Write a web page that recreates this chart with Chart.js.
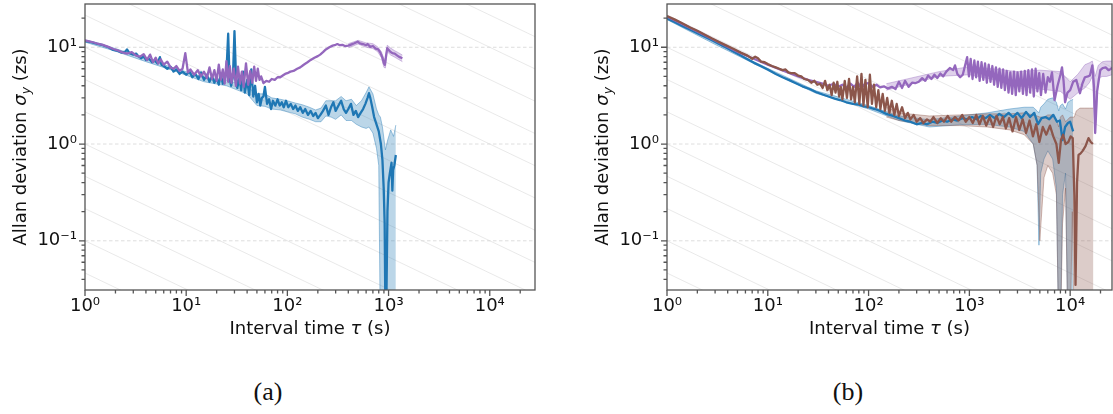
<!DOCTYPE html>
<html>
<head>
<meta charset="utf-8">
<script src="https://cdn.jsdelivr.net/npm/chart.js@4.4.0/dist/chart.umd.min.js"></script>
<style>
  body { margin: 0; background: #fff; }
  #wrap { position: relative; width: 1113px; height: 414px; overflow: hidden; background: #fff; }
  canvas { position: absolute; top: 0; }
  .cap { position: absolute; top: 377px; line-height: 30px; font: 26px 'Liberation Serif', serif; color: #111; transform: translateX(-50%); }
</style>
</head>
<body>
<div id="wrap">
  <canvas id="chartA" width="560" height="350" style="left:0"></canvas>
  <canvas id="chartB" width="553" height="350" style="left:560px"></canvas>
  <div class="cap" style="left:268px">(a)</div>
  <div class="cap" style="left:848px">(b)</div>
</div>
<script>
// axis ticks
const xTickVals = [1, 10, 100, 1000, 10000];
const xTickLabels = ['10⁰', '10¹', '10²', '10³', '10⁴'];
const yTickVals = [0.1, 1, 10];
const yTickLabels = ['10⁻¹', '10⁰', '10¹'];
// tau^-1/2 guide lines (value at tau = 1)
const guideLevels = [0.01, 0.0215, 0.0464, 0.1, 0.215, 0.464, 1, 2.15, 4.64, 10, 21.5, 46.4, 100, 215, 464, 1000, 2154, 4642, 10000];

// ---- panel (a) ----
const aBlueTau = [1, 1.15, 1.3, 1.5, 1.7, 1.9, 2.1, 2.3, 2.5, 2.6,
  2.75, 3.0, 3.2, 3.4, 3.6, 3.8, 4.0, 4.3, 4.6, 4.9,
  5.2, 5.5, 5.7, 6.0, 6.5, 7.0, 7.5, 8.0, 8.6, 9.2,
  10, 10.8, 11.5, 12.3, 13.2, 14, 15, 16, 17, 18,
  19, 20, 21, 22, 23, 24, 25, 26, 26.8, 27.8,
  29, 30, 31, 32, 33.5, 35, 36.5, 38, 40, 42,
  44, 46, 48, 50, 52, 54, 56, 58, 60, 63,
  66, 69, 72, 76, 80, 84, 88, 92, 97, 102,
  108, 114, 120, 127, 134, 142, 150, 160, 170, 180,
  190, 200, 212, 225, 240, 255, 270, 285, 300, 320,
  340, 360, 380, 400, 425, 450, 475, 500, 530, 560,
  590, 620, 640, 660, 690, 720, 760, 800, 840, 870,
  895, 915, 930, 950, 975, 1000, 1030, 1070, 1090, 1110,
  1140, 1180];
const aBlueVal = [11.6, 11.3, 10.9, 10.5, 10.0, 9.4, 9.2, 8.8, 9.0, 9.5,
  8.7, 8.4, 8.6, 8.0, 7.7, 8.1, 7.4, 7.6, 7.0, 7.3,
  6.8, 7.9, 6.6, 6.4, 6.0, 6.3, 5.6, 5.9, 5.3, 5.6,
  5.2, 5.6, 4.9, 5.3, 4.7, 5.5, 4.6, 5.2, 4.4, 5.0,
  4.3, 4.8, 4.1, 5.3, 4.2, 4.6, 5.6, 13.8, 4.8, 4.0,
  5.0, 14.7, 5.2, 3.8, 4.8, 3.6, 5.6, 3.4, 4.6, 3.2,
  5.9, 3.1, 4.0, 2.7, 3.3, 2.5, 3.0, 3.1, 3.9, 2.6,
  2.9, 2.3, 2.8, 2.5, 2.9, 2.5, 2.7, 2.4, 2.8, 2.4,
  2.6, 2.3, 2.5, 2.2, 2.4, 2.1, 2.3, 2.0, 2.2, 1.95,
  2.1, 1.85, 2.0, 2.2, 2.5, 2.0, 2.4, 2.7, 2.2, 2.5,
  2.8, 2.3, 2.1, 2.3, 2.6, 2.0, 2.2, 1.9, 2.1, 2.3,
  2.6, 3.0, 3.35, 3.0, 2.4, 1.9, 1.6, 1.35, 1.0, 0.68,
  0.35, 0.15, 0.02, 0.02, 0.2, 0.4, 0.5, 0.64, 0.33, 0.54,
  0.6, 0.77];
const aBlueBandTau = [1, 2, 4, 8, 15, 25, 40, 50, 60, 70, 85, 100, 120, 140, 165, 190, 215, 240, 270, 300,
  340, 380, 430, 480, 540, 600, 640, 700, 760, 800, 830, 870, 930, 980, 1050, 1120, 1180];
const aBlueHi = [11.9, 9.7, 7.6, 6.0, 4.9, 4.6, 3.9, 3.3, 3.3, 3.0, 2.9, 2.8, 2.65, 2.55, 2.4, 2.25, 2.35, 2.8, 2.8, 2.8,
  3.1, 2.8, 2.9, 2.5, 2.8, 3.4, 3.9, 3.3, 2.3, 2.0, 1.9, 1.5, 0.87, 1.1, 1.4, 1.2, 1.57];
const aBlueLo = [11.3, 9.1, 7.1, 5.6, 4.4, 4.0, 3.3, 2.5, 2.45, 2.3, 2.25, 2.15, 2.05, 1.9, 1.8, 1.7, 1.7, 1.95, 1.9, 1.8,
  2.0, 1.75, 1.75, 1.6, 1.5, 1.45, 1.5, 1.3, 0.9, 0.6, 0.01, 0.01, 0.01, 0.01, 0.01, 0.01, 0.01];

const aPurpleTau = [1, 1.15, 1.3, 1.5, 1.7, 1.9, 2.1, 2.3, 2.6, 2.9,
  3.2, 3.5, 3.8, 4.1, 4.4, 4.7, 5.0, 5.3, 5.6, 6.0,
  6.5, 7.0, 7.5, 8.0, 8.6, 9.2, 9.8, 10.4, 11, 12,
  13, 14, 15, 16, 17, 18, 19, 20, 21, 22,
  23, 24, 25, 26, 27, 28, 29.5, 31, 32.5, 34,
  35.5, 37, 39, 41, 43, 45, 47, 49, 51, 53,
  55, 58, 62, 66, 70, 75, 80, 85, 90, 95,
  100, 107, 115, 125, 134, 145, 158, 170, 185, 200,
  211, 225, 240, 260, 280, 300, 312, 330, 350, 370,
  400, 430, 460, 495, 520, 560, 600, 620, 660, 700,
  745, 790, 830, 870, 900, 920, 945, 970, 1000, 1040,
  1090, 1150, 1220, 1290, 1370];
const aPurpleVal = [11.8, 11.4, 11.0, 10.6, 10.1, 9.6, 9.3, 8.9, 8.6, 8.9,
  8.2, 8.0, 8.5, 7.4, 8.4, 7.0, 7.8, 6.8, 7.5, 6.6,
  7.1, 6.2, 6.0, 6.4, 5.7, 6.0, 8.7, 5.5, 5.9, 5.2,
  5.8, 5.0, 5.6, 4.8, 6.2, 4.7, 5.8, 4.5, 6.6, 4.6,
  5.9, 4.2, 7.2, 4.4, 6.4, 4.3, 6.0, 4.0, 6.3, 4.2,
  5.6, 3.9, 6.8, 4.1, 5.7, 4.3, 6.3, 4.5, 6.0, 4.6,
  5.0, 4.25, 4.5, 4.4, 4.7, 4.6, 4.9, 4.9, 5.1, 5.3,
  5.4, 5.6, 5.7, 6.0, 6.2, 6.6, 7.0, 7.4, 7.8, 8.1,
  8.4, 8.9, 9.5, 10.0, 10.4, 10.6, 10.8, 10.5, 10.6, 10.3,
  10.4, 10.7, 11.0, 11.4, 11.0, 10.8, 10.5, 10.8, 10.1, 10.3,
  9.7, 9.5, 8.8, 7.8, 6.8, 6.6, 8.2, 9.8, 9.4, 9.0,
  8.7, 8.6, 8.2, 7.9, 7.7];
const aPurpleBandTau = [400, 500, 600, 700, 780, 850, 900, 930, 970, 1050, 1150, 1250, 1370];
const aPurpleHi = [10.9, 11.8, 11.1, 10.9, 10.1, 9.0, 7.6, 7.5, 10.5, 9.8, 9.2, 8.8, 8.3];
const aPurpleLo = [9.9, 10.8, 10.0, 9.7, 9.0, 7.8, 6.2, 6.1, 9.0, 8.3, 7.9, 7.5, 7.1];

// ---- panel (b) ----
const bBlueTau = [1, 1.2, 1.4, 1.7, 2.0, 2.4, 2.8, 3.3, 3.9, 4.6,
  5.4, 6.3, 7.3, 8.5, 10, 12, 14, 16.5, 19, 22,
  26, 30, 35, 40, 46, 52, 60, 70, 80, 90,
  100, 115, 130, 150, 175, 200, 230, 260, 300, 340,
  380, 430, 480, 540, 600, 680, 760, 850, 950, 1060,
  1180, 1300, 1450, 1600, 1780, 1980, 2200, 2450, 2700, 3000,
  3300, 3650, 4000, 4400, 4800, 5200, 5700, 6200, 6800, 7400,
  7900, 8400, 8900, 9500, 10000, 10700];
const bBlueVal = [19.8, 18.1, 16.7, 15.2, 14.0, 12.8, 11.8, 10.8, 9.9, 9.0,
  8.2, 7.5, 6.9, 6.4, 5.9, 5.3, 4.9, 4.55, 4.25, 3.95,
  3.7, 3.45, 3.25, 3.1, 2.95, 2.85, 2.7, 2.6, 2.55, 2.45,
  2.4, 2.3, 2.2, 2.05, 1.95, 1.85, 1.75, 1.7, 1.6, 1.65,
  1.6, 1.7, 1.65, 1.75, 1.7, 1.8, 1.75, 1.85, 1.8, 1.9,
  1.8, 1.95, 1.85, 2.0, 1.85, 2.05, 1.9, 2.1, 1.9, 2.1,
  1.85, 2.15, 1.9, 2.1, 1.6, 1.85, 1.9, 1.8, 2.0, 1.7,
  1.75, 1.1, 1.5, 1.65, 1.7, 1.35];
const bBlueBandTau = [1, 3, 10, 30, 100, 200, 400, 800, 1500, 2500, 3500, 4300, 4700, 4900, 5100, 5500, 6000,
  6700, 7300, 7700, 8000, 8400, 9000, 9500, 10000, 10700];
const bBlueHi = [20.3, 11.1, 6.05, 3.55, 2.5, 1.95, 1.78, 1.95, 2.1, 2.3, 2.4, 2.4, 2.2, 2.1, 2.4, 2.6, 2.9,
  3.0, 2.7, 2.2, 2.5, 2.6, 2.3, 2.7, 2.8, 2.9];
const bBlueLo = [19.3, 10.7, 5.75, 3.35, 2.3, 1.75, 1.5, 1.58, 1.6, 1.5, 1.35, 1.0, 0.6, 0.09, 0.5, 0.7, 0.85,
  0.7, 0.35, 0.01, 0.01, 0.3, 0.5, 0.01, 0.01, 0.01];

const bBrownTau = [1, 1.2, 1.4, 1.7, 2.0, 2.4, 2.8, 3.3, 3.9, 4.6,
  5.4, 6.3, 7.0, 7.5, 8.0, 8.6, 9.3, 10, 11, 12,
  13, 14, 15, 16, 17, 18.5, 20, 21.5, 23, 25,
  27, 29, 31, 33, 35, 37, 39, 41, 43, 45,
  47, 49, 51, 53, 55, 58, 61, 64, 67, 70,
  73, 77, 81, 85, 89, 93, 98, 103, 108, 113,
  119, 125, 131, 138, 145, 153, 161, 170, 180, 190,
  200, 215, 230, 245, 260, 280, 300, 325, 350, 380,
  410, 440, 480, 520, 560, 610, 660, 720, 780, 850,
  920, 1000, 1080, 1170, 1260, 1360, 1470, 1590, 1720, 1860,
  2000, 2150, 2300, 2480, 2680, 2900, 3130, 3380, 3650, 3950,
  4270, 4600, 4950, 5350, 5800, 6300, 6800, 7300, 7700, 8100,
  8500, 9000, 9600, 10100, 10600, 11000, 11300, 11700, 12100, 12700,
  13300, 14200, 15200, 16000, 16800];
const bBrownVal = [21.0, 19.3, 17.8, 16.0, 14.8, 13.4, 12.3, 11.3, 10.4, 9.6,
  8.8, 8.2, 7.6, 8.0, 7.7, 7.1, 7.0, 6.7, 6.4, 6.2,
  6.0, 5.8, 5.9, 5.5, 5.4, 5.4, 5.1, 5.0, 4.7, 4.6,
  4.3, 4.5, 4.1, 4.2, 3.8, 4.5, 3.6, 4.1, 3.2, 4.3,
  3.4, 4.4, 3.1, 3.9, 2.9, 4.5, 3.0, 4.7, 2.9, 3.9,
  2.7, 5.0, 2.6, 5.3, 2.5, 4.6, 2.4, 5.2, 2.6, 4.1,
  2.4, 3.6, 2.3, 3.3, 2.2, 3.0, 2.1, 2.8, 2.0, 2.6,
  1.95, 2.4, 1.85, 2.1, 1.8, 2.0, 1.7, 1.85, 1.65, 1.8,
  1.7, 1.9, 1.65, 1.85, 1.7, 1.95, 1.7, 1.9, 1.75, 2.0,
  1.7, 1.9, 1.65, 2.0, 1.6, 1.95, 1.55, 1.9, 1.5, 1.95,
  1.6, 1.9, 1.45, 1.85, 1.35, 1.9, 1.4, 1.8, 1.3, 1.75,
  1.2, 1.6, 1.05, 1.5, 1.25, 1.55, 1.2, 1.0, 0.64, 1.1,
  1.25, 1.0, 1.05, 1.2, 1.15, 0.3, 0.035, 0.4, 0.77, 0.8,
  0.85, 0.95, 1.15, 1.05, 1.0];
const bBrownBandTau = [150, 200, 400, 800, 1500, 2500, 3500, 4300, 4700, 5000, 5500, 6000, 6700, 7300, 7700,
  8000, 8400, 9000, 9500, 10000, 10500, 11000, 11500, 12500, 14000, 15500, 17000];
const bBrownHi = [2.4, 2.1, 1.95, 2.0, 2.05, 2.05, 2.1, 2.0, 1.95, 1.9, 1.9, 2.0, 2.0, 1.8, 1.5,
  1.9, 2.0, 1.7, 1.8, 1.9, 1.9, 1.9, 2.2, 2.35, 2.35, 2.35, 2.35];
const bBrownLo = [1.9, 1.75, 1.55, 1.55, 1.5, 1.4, 1.25, 1.0, 0.6, 0.1, 0.45, 0.6, 0.5, 0.3, 0.01,
  0.01, 0.15, 0.35, 0.01, 0.01, 0.2, 0.01, 0.01, 0.01, 0.01, 0.01, 0.01];

const bPurpleTau = [1, 2, 5, 10, 20, 25, 30, 35, 40, 45,
  50, 55, 60, 66, 72, 78, 85, 92, 100, 110,
  120, 130, 142, 155, 170, 185, 200, 215, 230, 250,
  270, 290, 315, 340, 365, 390, 420, 450, 480, 515,
  550, 590, 640, 690, 720, 760, 810, 860, 910,
  950, 990, 1030, 1075, 1120, 1165, 1215, 1265, 1320, 1375,
  1430, 1490, 1555, 1620, 1690, 1760, 1835, 1910, 1990, 2075,
  2160, 2250, 2345, 2445, 2550, 2655, 2770, 2885, 3005, 3130,
  3260, 3400, 3545, 3690, 3845, 4010, 4180, 4355, 4540, 4730,
  4930, 5130,
  5400, 5700, 6000, 6300, 6600, 7000, 7500, 8000, 8300, 8600,
  8900, 9400, 10000, 10700, 11500, 12500, 13200, 14000, 15000, 15700,
  16600, 17200, 17700, 18500, 19900, 21000, 22500, 24000, 25500, 26000];
const bPurpleVal = [20.8, 14.6, 9.0, 6.6, 5.0, 4.6, 4.4, 4.2, 4.0, 4.2,
  3.9, 4.1, 3.8, 4.2, 3.9, 4.3, 3.8, 4.2, 4.25, 3.9,
  4.1, 3.85, 3.95, 3.75, 3.9, 3.7, 4.4, 3.8, 4.5, 3.9,
  4.3, 4.25, 4.4, 4.8, 4.5, 5.1, 4.7, 5.2, 4.8, 5.35,
  5.0, 5.6, 6.1, 5.8, 6.5, 5.3, 4.9, 5.2, 6.6,
  7.9, 5.0, 7.6, 4.7, 7.3, 4.9, 7.1, 4.5, 7.0, 4.6,
  6.8, 4.3, 6.6, 4.4, 6.4, 4.1, 6.2, 3.9, 6.0, 3.8,
  5.9, 3.6, 5.7, 3.4, 5.5, 3.3, 5.6, 3.2, 5.5, 3.5,
  5.6, 3.3, 5.7, 3.2, 5.8, 3.4, 5.9, 3.1, 6.0, 3.5,
  5.4, 3.2,
  5.3, 3.4, 4.9, 4.4, 5.5, 2.84, 4.0, 5.2, 6.2, 4.5,
  2.7, 3.4, 3.6, 4.4, 4.6, 3.35, 4.2, 4.9, 5.0, 5.1,
  6.5, 4.0, 1.3, 3.5, 5.8, 6.1, 6.2, 5.8, 6.0, 6.2];
const bPurpleBandTau = [150, 500, 1000, 2000, 3000, 5000, 8000, 10000, 12000, 14000, 15500, 16600, 17700,
  19000, 21000, 23000, 26000];
const bPurpleHi = [4.2, 5.6, 6.3, 5.9, 5.6, 5.8, 5.6, 4.4, 5.3, 6.6, 6.9, 7.2, 5.0, 6.5, 7.1, 7.2, 7.2];
const bPurpleLo = [3.6, 5.0, 5.2, 4.5, 4.0, 3.7, 3.5, 2.9, 3.4, 3.8, 4.3, 5.0, 1.3, 4.8, 5.0, 5.0, 5.2];

const BLUE = '#1f77b4', PURPLE = '#9467bd', BROWN = '#8c564b';
const AXIS = '#555';
const FONT = '"DejaVu Sans"';

const pts = (xs, ys) => xs.map((x, i) => ({ x, y: ys[i] }));
function rgba(hex, a) {
  const n = parseInt(hex.slice(1), 16);
  return `rgba(${n >> 16},${(n >> 8) & 255},${n & 255},${a})`;
}
function line(xs, ys, color, order) {
  return { data: pts(xs, ys), borderColor: color, borderWidth: 2.3, pointRadius: 0,
    fill: false, order, borderJoinStyle: 'round' };
}
function band(xs, lo, hi, color, order) {
  return [
    { data: pts(xs, hi), borderColor: rgba(color, 0.45), borderWidth: 0.9, pointRadius: 0,
      backgroundColor: rgba(color, 0.3), fill: '+1', order },
    { data: pts(xs, lo), borderColor: rgba(color, 0.45), borderWidth: 0.9, pointRadius: 0,
      fill: false, order }
  ];
}

function drawRich(ctx, segs, cx, cy) {
  let w = 0;
  segs.forEach(s => { ctx.font = s[1]; w += ctx.measureText(s[0]).width; });
  let x = cx - w / 2;
  segs.forEach(s => {
    ctx.font = s[1];
    ctx.fillText(s[0], x, cy + (s[2] || 0));
    x += ctx.measureText(s[0]).width;
  });
}

const frame = {
  id: 'frame',
  beforeDatasetsDraw(chart) {
    const { ctx, chartArea: a, scales: { x, y } } = chart;
    ctx.save();
    ctx.beginPath();
    ctx.rect(a.left, a.top, a.right - a.left, a.bottom - a.top);
    ctx.clip();
    ctx.strokeStyle = '#e7e7e7';
    ctx.lineWidth = 0.9;
    guideLevels.forEach(c => {
      ctx.beginPath();
      ctx.moveTo(x.getPixelForValue(x.min), y.getPixelForValue(c / Math.sqrt(x.min)));
      ctx.lineTo(x.getPixelForValue(x.max), y.getPixelForValue(c / Math.sqrt(x.max)));
      ctx.stroke();
    });
    ctx.setLineDash([3.5, 2.5]);
    ctx.strokeStyle = '#d9d9d9';
    yTickVals.forEach(v => {
      const py = y.getPixelForValue(v);
      ctx.beginPath();
      ctx.moveTo(a.left, py);
      ctx.lineTo(a.right, py);
      ctx.stroke();
    });
    ctx.restore();
  },
  afterDraw(chart) {
    const { ctx, chartArea: a, scales: { x, y } } = chart;
    ctx.save();
    ctx.strokeStyle = AXIS;
    ctx.lineWidth = 1.3;
    ctx.beginPath();
    for (let d = 0; d <= 4; d++) {
      for (let m = 1; m <= 9; m++) {
        const v = m * Math.pow(10, d);
        if (v < x.min || v > x.max) continue;
        const px = x.getPixelForValue(v), len = m === 1 ? 6 : 3.5;
        ctx.moveTo(px, a.bottom);
        ctx.lineTo(px, a.bottom + len);
      }
    }
    for (let d = -2; d <= 1; d++) {
      for (let m = 1; m <= 9; m++) {
        const v = m * Math.pow(10, d);
        if (v < y.min || v > y.max) continue;
        const py = y.getPixelForValue(v), len = m === 1 ? 6 : 3.5;
        ctx.moveTo(a.left, py);
        ctx.lineTo(a.left - len, py);
      }
    }
    ctx.stroke();
    ctx.strokeRect(a.left, a.top, a.right - a.left, a.bottom - a.top);

    // axis titles
    ctx.fillStyle = '#111';
    ctx.textBaseline = 'alphabetic';
    const norm = `18px ${FONT}`, ital = `italic 18px ${FONT}`, sub = `italic 12.5px ${FONT}`;
    drawRich(ctx, [['Interval time ', norm], ['τ', ital], [' (s)', norm]], (a.left + a.right) / 2, a.bottom + 44);
    ctx.translate(a.left - 59, (a.top + a.bottom) / 2);
    ctx.rotate(-Math.PI / 2);
    drawRich(ctx, [['Allan deviation ', norm], ['σ', ital], ['y', sub, 3.5], [' (zs)', norm]], 0, 0);
    ctx.restore();
  }
};

function makeChart(id, datasets, xMax, yWidth, padRight) {
  const tickFont = { family: 'DejaVu Sans', size: 18 };
  return new Chart(document.getElementById(id), {
    type: 'line',
    data: { datasets },
    options: {
      responsive: false,
      animation: false,
      devicePixelRatio: 1,
      events: [],
      layout: { padding: { left: 0, top: 4, right: padRight, bottom: 0 } },
      plugins: { legend: { display: false }, tooltip: { enabled: false } },
      scales: {
        x: {
          type: 'logarithmic', min: 1, max: xMax,
          grid: { display: false, drawTicks: false }, border: { display: false },
          ticks: { font: tickFont, color: '#111', padding: 6, autoSkip: false, maxRotation: 0,
            callback: (v, i) => xTickLabels[i] },
          afterBuildTicks: s => { s.ticks = xTickVals.map(value => ({ value })); },
          afterFit: s => { s.height = 60; s.paddingLeft = 0; s.paddingRight = 0; }
        },
        y: {
          type: 'logarithmic', min: 0.031, max: 28,
          grid: { display: false, drawTicks: false }, border: { display: false },
          ticks: { font: tickFont, color: '#111', padding: 8, autoSkip: false,
            callback: (v, i) => yTickLabels[i] },
          afterBuildTicks: s => { s.ticks = yTickVals.map(value => ({ value })); },
          afterFit: s => { s.width = yWidth; s.paddingTop = 0; s.paddingBottom = 0; }
        }
      }
    },
    plugins: [frame]
  });
}

makeChart('chartA', [
  line(aPurpleTau, aPurpleVal, PURPLE, 0),
  line(aBlueTau, aBlueVal, BLUE, 1),
  ...band(aPurpleBandTau, aPurpleLo, aPurpleHi, PURPLE, 10),
  ...band(aBlueBandTau, aBlueLo, aBlueHi, BLUE, 11)
], 28000, 85, 25);

makeChart('chartB', [
  line(bBrownTau, bBrownVal, BROWN, 0),
  line(bPurpleTau, bPurpleVal, PURPLE, 1),
  line(bBlueTau, bBlueVal, BLUE, 2),
  ...band(bBrownBandTau, bBrownLo, bBrownHi, BROWN, 10),
  ...band(bPurpleBandTau, bPurpleLo, bPurpleHi, PURPLE, 11),
  ...band(bBlueBandTau, bBlueLo, bBlueHi, BLUE, 12)
], 26000, 107, 1);
</script>
</body>
</html>
